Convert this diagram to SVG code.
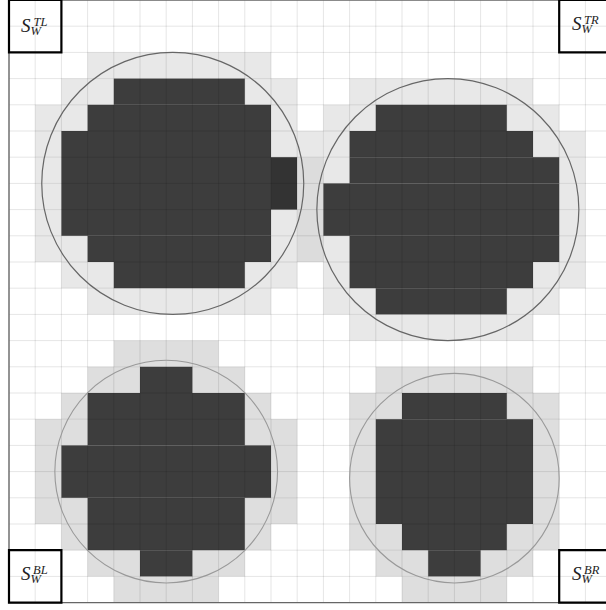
<svg xmlns="http://www.w3.org/2000/svg" width="606" height="610" viewBox="0 0 606 610">
<style>
.lt{fill:#e8e8e8}
.lt2{fill:#dedede}
.ov{fill:#dcdcdc}
.dk{fill:#3d3d3d}
.xd{fill:#333333}
.grid{fill:none;stroke:#000;stroke-opacity:0.1;stroke-width:1}
.frame{fill:none;stroke:#666;stroke-width:1.4}
.c1{fill:none;stroke:#666;stroke-width:1.2}
.c2{fill:none;stroke:#999;stroke-width:1.1}
.box{fill:none;stroke:#000;stroke-width:2.2}
.S{font-family:"Liberation Serif","DejaVu Serif",serif;font-style:italic;font-size:19px;fill:#222}
.sc{font-size:12.5px}
</style>
<rect x="0" y="0" width="606" height="610" fill="#fff"/>
<g transform="translate(9,0) scale(26.2)">
  <g id="blob-tl">
    <g class="lt">
      <rect x="3" y="2" width="7" height="1"/>
      <rect x="2" y="3" width="2" height="1"/><rect x="9" y="3" width="2" height="1"/>
      <rect x="1" y="4" width="2" height="1"/><rect x="10" y="4" width="1" height="1"/>
      <rect x="1" y="5" width="1" height="1"/><rect x="10" y="5" width="2" height="1"/>
      <rect x="1" y="6" width="1" height="1"/>
      <rect x="1" y="7" width="1" height="1"/>
      <rect x="1" y="8" width="1" height="1"/><rect x="10" y="8" width="1" height="1"/>
      <rect x="1" y="9" width="2" height="1"/><rect x="10" y="9" width="1" height="1"/>
      <rect x="2" y="10" width="2" height="1"/><rect x="9" y="10" width="2" height="1"/>
      <rect x="3" y="11" width="7" height="1"/>
    </g>
    <g class="dk">
      <rect x="4" y="3" width="5" height="1"/>
      <rect x="3" y="4" width="7" height="1"/>
      <rect x="2" y="5" width="8" height="4"/>
      <rect x="3" y="9" width="7" height="1"/>
      <rect x="4" y="10" width="5" height="1"/>
    </g>
    <rect class="xd" x="10" y="6" width="1" height="2"/>
  </g>
  <g id="blob-tr">
    <g class="lt">
      <rect x="13" y="3" width="7" height="1"/>
      <rect x="12" y="4" width="2" height="1"/><rect x="19" y="4" width="2" height="1"/>
      <rect x="12" y="5" width="1" height="1"/><rect x="20" y="5" width="2" height="1"/>
      <rect x="12" y="6" width="1" height="1"/><rect x="21" y="6" width="1" height="1"/>
      <rect x="21" y="7" width="1" height="1"/>
      <rect x="21" y="8" width="1" height="1"/>
      <rect x="12" y="9" width="1" height="1"/><rect x="21" y="9" width="1" height="1"/>
      <rect x="12" y="10" width="1" height="1"/><rect x="20" y="10" width="2" height="1"/>
      <rect x="12" y="11" width="2" height="1"/><rect x="19" y="11" width="2" height="1"/>
      <rect x="13" y="12" width="7" height="1"/>
    </g>
    <rect class="ov" x="11" y="6" width="1" height="4"/>
    <g class="dk">
      <rect x="14" y="4" width="5" height="1"/>
      <rect x="13" y="5" width="7" height="1"/>
      <rect x="13" y="6" width="8" height="1"/>
      <rect x="12" y="7" width="9" height="2"/>
      <rect x="13" y="9" width="8" height="1"/>
      <rect x="13" y="10" width="7" height="1"/>
      <rect x="14" y="11" width="5" height="1"/>
    </g>
  </g>
  <g id="blob-bl">
    <g class="lt2">
      <rect x="4" y="13" width="4" height="1"/>
      <rect x="3" y="14" width="2" height="1"/><rect x="7" y="14" width="2" height="1"/>
      <rect x="2" y="15" width="1" height="1"/><rect x="9" y="15" width="1" height="1"/>
      <rect x="1" y="16" width="2" height="1"/><rect x="9" y="16" width="2" height="1"/>
      <rect x="1" y="17" width="1" height="2"/><rect x="10" y="17" width="1" height="2"/>
      <rect x="1" y="19" width="2" height="1"/><rect x="9" y="19" width="2" height="1"/>
      <rect x="2" y="20" width="1" height="1"/><rect x="9" y="20" width="1" height="1"/>
      <rect x="3" y="21" width="2" height="1"/><rect x="7" y="21" width="2" height="1"/>
      <rect x="4" y="22" width="4" height="1"/>
    </g>
    <g class="dk">
      <rect x="5" y="14" width="2" height="1"/>
      <rect x="3" y="15" width="6" height="2"/>
      <rect x="2" y="17" width="8" height="2"/>
      <rect x="3" y="19" width="6" height="2"/>
      <rect x="5" y="21" width="2" height="1"/>
    </g>
  </g>
  <g id="blob-br">
    <g class="lt2">
      <rect x="14" y="14" width="6" height="1"/>
      <rect x="13" y="15" width="2" height="1"/><rect x="19" y="15" width="2" height="1"/>
      <rect x="13" y="16" width="1" height="4"/><rect x="20" y="16" width="1" height="4"/>
      <rect x="13" y="20" width="2" height="1"/><rect x="19" y="20" width="2" height="1"/>
      <rect x="14" y="21" width="2" height="1"/><rect x="18" y="21" width="2" height="1"/>
      <rect x="15" y="22" width="4" height="1"/>
    </g>
    <g class="dk">
      <rect x="15" y="15" width="4" height="1"/>
      <rect x="14" y="16" width="6" height="4"/>
      <rect x="15" y="20" width="4" height="1"/>
      <rect x="16" y="21" width="2" height="1"/>
    </g>
  </g>
  <path id="grid" class="grid" vector-effect="non-scaling-stroke" d="M1 0V23M2 0V23M3 0V23M4 0V23M5 0V23M6 0V23M7 0V23M8 0V23M9 0V23M10 0V23M11 0V23M12 0V23M13 0V23M14 0V23M15 0V23M16 0V23M17 0V23M18 0V23M19 0V23M20 0V23M21 0V23M22 0V23M0 1H23M0 2H23M0 3H23M0 4H23M0 5H23M0 6H23M0 7H23M0 8H23M0 9H23M0 10H23M0 11H23M0 12H23M0 13H23M0 14H23M0 15H23M0 16H23M0 17H23M0 18H23M0 19H23M0 20H23M0 21H23M0 22H23"/>
  <rect id="frame" class="frame" vector-effect="non-scaling-stroke" x="0" y="0" width="23" height="23"/>
  <g id="circles">
    <circle class="c1" vector-effect="non-scaling-stroke" cx="6.25" cy="7" r="5"/>
    <circle class="c1" vector-effect="non-scaling-stroke" cx="16.75" cy="8" r="5"/>
    <circle class="c2" vector-effect="non-scaling-stroke" cx="6" cy="18" r="4.25"/>
    <circle class="c2" vector-effect="non-scaling-stroke" cx="17" cy="18.25" r="4"/>
  </g>
  <g id="boxes">
    <rect class="box" vector-effect="non-scaling-stroke" x="0" y="0" width="2" height="2"/>
    <rect class="box" vector-effect="non-scaling-stroke" x="21" y="0" width="2" height="2"/>
    <rect class="box" vector-effect="non-scaling-stroke" x="0" y="21" width="2" height="2"/>
    <rect class="box" vector-effect="non-scaling-stroke" x="21" y="21" width="2" height="2"/>
  </g>
</g>
<g id="label-tl">
  <text class="S" x="21" y="32">S<tspan class="sc" x="33.5" y="25.5">TL</tspan><tspan class="sc" x="30.5" y="34.5">W</tspan></text>
</g>
<g id="label-tr">
  <text class="S" x="572" y="30">S<tspan class="sc" x="584" y="23.5">TR</tspan><tspan class="sc" x="581.5" y="32.5">W</tspan></text>
</g>
<g id="label-bl">
  <text class="S" x="21" y="580">S<tspan class="sc" x="33" y="573.5">BL</tspan><tspan class="sc" x="30.5" y="582.5">W</tspan></text>
</g>
<g id="label-br">
  <text class="S" x="572" y="580">S<tspan class="sc" x="584" y="573.5">BR</tspan><tspan class="sc" x="581.5" y="582.5">W</tspan></text>
</g>
</svg>
